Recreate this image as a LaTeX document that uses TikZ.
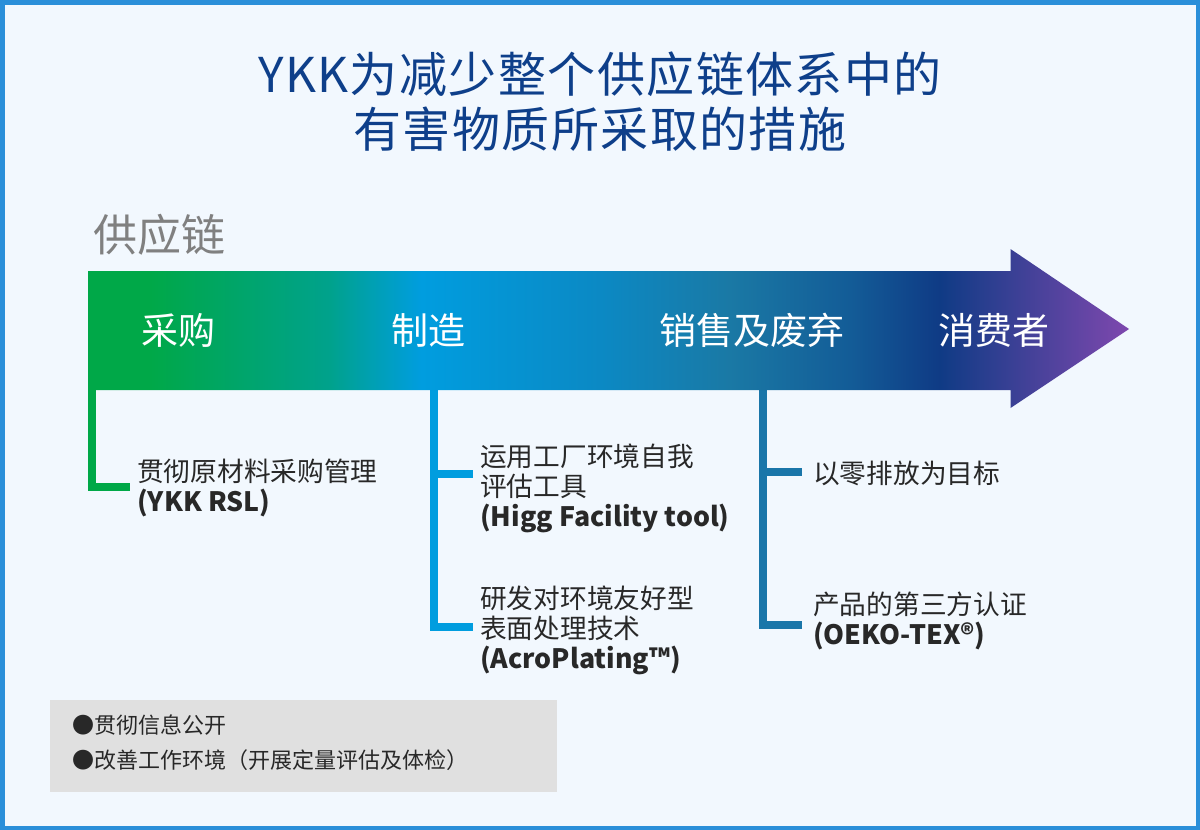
\documentclass[tikz,border=0pt]{standalone}
\usepackage{fontspec}
\setmainfont{Noto Sans CJK SC}
\usetikzlibrary{calc}

\definecolor{framebl}{RGB}{43,143,217}
\definecolor{bgblue}{RGB}{242,248,254}
\definecolor{titleblue}{RGB}{14,63,138}
\definecolor{chaingray}{RGB}{128,128,128}
\definecolor{txtdark}{RGB}{40,40,40}
\definecolor{boxgray}{RGB}{224,224,224}
\definecolor{chgreen}{RGB}{0,168,72}
\definecolor{chteal}{RGB}{0,162,140}
\definecolor{chcyan}{RGB}{0,157,223}
\definecolor{chblue}{RGB}{11,137,196}
\definecolor{chsteel}{RGB}{26,121,165}
\definecolor{chmid}{RGB}{19,92,151}
\definecolor{chnavy}{RGB}{15,59,133}
\definecolor{chpurple}{RGB}{126,72,174}
\definecolor{brsteel}{RGB}{26,118,169}

\pgfdeclarehorizontalshading{supplychain}{100bp}{color(0bp)=(chgreen); color(25bp)=(chgreen); color(28bp)=(chgreen); color(36.6bp)=(chteal); color(41bp)=(chcyan); color(49.6bp)=(chblue); color(55.8bp)=(chsteel); color(61.6bp)=(chmid); color(65.9bp)=(chnavy); color(75bp)=(chpurple); color(100bp)=(chpurple)}

\tikzset{
	branch/.style={line width=8pt},
	stagelabel/.style={text=white, inner sep=0pt, font=\fontsize{37}{40}\selectfont},
	itemtext/.style={anchor=west, align=left, inner sep=0pt, text=txtdark, font=\fontsize{26.7}{30}\selectfont},
}

\begin{document}
\begin{tikzpicture}[x=1pt, y=-1pt]
			%%%%% START %%%%%
			\useasboundingbox (0,0) rectangle (1200,830);
			\draw[framebl, line width=4.5pt, fill=bgblue] (2.25,2.25) rectangle (1197.75,827.75);
			
			\node[align=center, text=titleblue, font=\fontsize{48}{55}\selectfont\addfontfeature{LetterSpace=3}] (title) at (600,102) {YKK为减少整个供应链体系中的\\有害物质所采取的措施};
			\node[anchor=west, inner sep=0pt, text=chaingray, font=\fontsize{44}{48}\selectfont] (chain) at (93,235) {供应链};
			
			% branches under the arrow
			\coordinate (buy-top) at (92,385);
			\coordinate (buy-end) at (130,487);
			\coordinate (make-top) at (434,385);
			\coordinate (make-end1) at (473,474);
			\coordinate (make-end2) at (473,627);
			\coordinate (sell-top) at (762.5,385);
			\coordinate (sell-end1) at (802,472);
			\coordinate (sell-end2) at (802,625);
			
			\draw[branch, chgreen] (buy-top) |- (buy-end);
			\draw[branch, chcyan] (make-top) |- (make-end2);
			\draw[branch, chcyan] (make-top |- make-end1) -- (make-end1);
			\draw[branch, brsteel] (sell-top) |- (sell-end2);
			\draw[branch, brsteel] (sell-top |- sell-end1) -- (sell-end1);
			
			% the arrow
			\shade[shading=supplychain] (88,271) -- (1010.5,271) -- (1010.5,249) -- (1129,329) -- (1010.5,408) -- (1010.5,390) -- (88,390) -- cycle;
			
			\node[stagelabel] (buy) at (178,330) {采购};
			\node[stagelabel] (make) at (428,330) {制造};
			\node[stagelabel] (sell) at (752,330) {销售及废弃};
			\node[stagelabel] (use) at (994,330) {消费者};
			
			\node[itemtext] (buy-rsl) at (137,488) {贯彻原材料采购管理\\{\bfseries (YKK RSL)}};
			\node[itemtext] (make-higg) at (480,488) {运用工厂环境自我\\评估工具\\{\bfseries (Higg Facility tool)}};
			\node[itemtext] (make-acro) at (480,630) {研发对环境友好型\\表面处理技术\\{\bfseries (AcroPlating™)}};
			\node[itemtext] (sell-zero) at (813,473) {以零排放为目标};
			\node[itemtext] (sell-oeko) at (813,621) {产品的第三方认证\\{\bfseries (OEKO-TEX®)}};
			
			% note box
			\fill[boxgray] (50,700) rectangle (557,792);
			\node[itemtext, font=\fontsize{22}{35}\selectfont] (note) at (72,743) {●贯彻信息公开\\●改善工作环境（开展定量评估及体检）};
			%%%%% END %%%%%
\end{tikzpicture}
\end{document}
